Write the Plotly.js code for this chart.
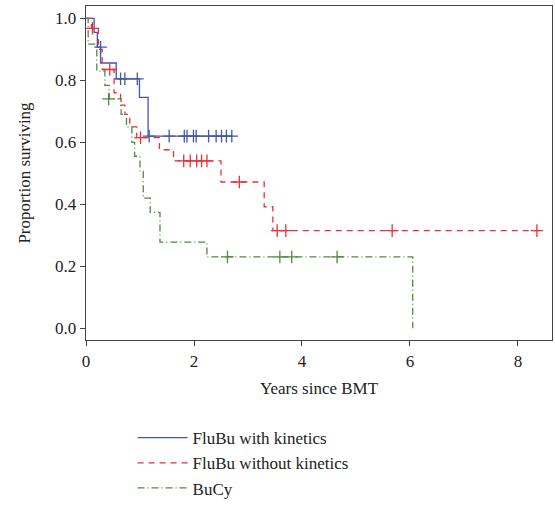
<!DOCTYPE html>
<html>
<head>
<script src="https://cdn.plot.ly/plotly-3.0.1.min.js"></script>
<style>body{margin:0}#chart{width:555px;height:509px}</style>
</head>
<body>
<div id="chart"></div>
<script>
// step curves (years, survival)
const blueX = [0, 0.15, 0.21, 0.27, 0.56, 0.99, 1.15, 2.70];
const blueY = [1.0, 0.955, 0.907, 0.856, 0.805, 0.745, 0.62, 0.62];
const blueCensX = [0.27, 0.64, 0.72, 0.95, 1.17, 1.54, 1.82, 1.87, 1.99, 2.04, 2.27, 2.41, 2.51, 2.60, 2.70];
const blueCensY = [0.907, 0.805, 0.805, 0.805, 0.62, 0.62, 0.62, 0.62, 0.62, 0.62, 0.62, 0.62, 0.62, 0.62, 0.62];

const redX = [0, 0.1, 0.23, 0.3, 0.52, 0.64, 0.72, 0.81, 0.94, 1.36, 1.62, 2.5, 3.3, 3.46, 8.4];
const redY = [1.0, 0.968, 0.90, 0.835, 0.76, 0.72, 0.69, 0.65, 0.615, 0.576, 0.54, 0.472, 0.392, 0.315, 0.315];
const redCensX = [0.12, 0.44, 1.01, 1.81, 1.93, 2.05, 2.14, 2.24, 2.84, 3.54, 3.70, 5.67, 8.35];
const redCensY = [0.968, 0.835, 0.615, 0.54, 0.54, 0.54, 0.54, 0.54, 0.472, 0.315, 0.315, 0.315, 0.315];

const greenX = [0, 0.04, 0.2, 0.35, 0.43, 0.65, 0.75, 0.85, 0.9, 1.0, 1.06, 1.19, 1.37, 2.24, 6.05, 6.05];
const greenY = [1.0, 0.917, 0.83, 0.784, 0.74, 0.69, 0.65, 0.60, 0.555, 0.506, 0.42, 0.374, 0.278, 0.23, 0.23, 0.0];
const greenCensX = [0.42, 2.62, 3.59, 3.81, 4.65];
const greenCensY = [0.74, 0.23, 0.23, 0.23, 0.23];

const blue = '#4657a8', red = '#e8313b', green = '#4f8a3f';

function curve(x, y, name, color, dash) {
    return { x: x, y: y, mode: 'lines', name: name, line: { shape: 'hv', color: color, width: 1.3, dash: dash } };
}
function cens(x, y, color) {
    return { x: x, y: y, mode: 'markers', showlegend: false, hoverinfo: 'skip',
        marker: { symbol: 'cross-thin-open', size: 9, color: color, line: { color: color, width: 1.3 } } };
}

const data = [
    curve(blueX, blueY, 'FluBu with kinetics', blue, 'solid'),
    curve(redX, redY, 'FluBu without kinetics', red, '6px,5px'),
    curve(greenX, greenY, 'BuCy', green, '7px,3px,1px,3px'),
    cens(blueCensX, blueCensY, blue),
    cens(redCensX, redCensY, red),
    cens(greenCensX, greenCensY, green)
];

const axisFont = { family: 'Liberation Serif', size: 17, color: '#222' };
const layout = {
    width: 555, height: 509,
    margin: { l: 86, r: 3, t: 6, b: 165 },
    paper_bgcolor: '#fff', plot_bgcolor: '#fff',
    font: axisFont,
    xaxis: {
        range: [0, 8.63], tickvals: [0, 2, 4, 6, 8], showgrid: false, zeroline: false,
        showline: true, mirror: true, linecolor: '#444', linewidth: 1.3,
        ticks: 'outside', ticklen: 5, tickcolor: '#444',
        title: { text: 'Years since BMT', font: axisFont, standoff: 12 }
    },
    yaxis: {
        range: [-0.038, 1.04], tickvals: [0, 0.2, 0.4, 0.6, 0.8, 1.0], tickformat: '.1f',
        showgrid: false, zeroline: false,
        showline: true, mirror: true, linecolor: '#444', linewidth: 1.3,
        ticks: 'outside', ticklen: 5, tickcolor: '#444',
        title: { text: 'Proportion surviving', font: axisFont, standoff: 20 }
    },
    legend: {
        x: 0.1, y: -0.24, xanchor: 'left', yanchor: 'top',
        font: axisFont, tracegroupgap: 4, itemwidth: 50
    }
};

Plotly.newPlot('chart', data, layout, { staticPlot: true });
</script>
</body>
</html>
